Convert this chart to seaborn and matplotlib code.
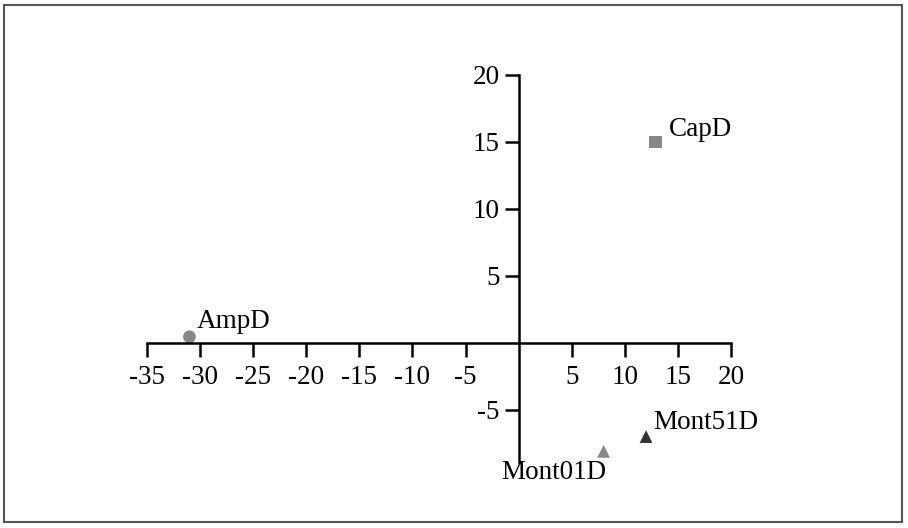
import pandas as pd
import seaborn as sns
import matplotlib.pyplot as plt
from matplotlib.patches import Rectangle

# data
names = ["AmpD", "CapD", "Mont01D", "Mont51D"]
x_vals = [-31.0, 12.9, 8.0, 12.0]
y_vals = [0.45, 15.0, -8.1, -7.0]
point_colors = ["#888888", "#888888", "#888888", "#333333"]
point_markers = ["o", "s", "^", "^"]
x_ticks = [-35, -30, -25, -20, -15, -10, -5, 5, 10, 15, 20]
y_ticks = [-5, 5, 10, 15, 20]

df = pd.DataFrame({"name": names, "x": x_vals, "y": y_vals})

sns.set_theme(style="white")
plt.rcParams["font.family"] = ["Liberation Serif", "DejaVu Serif"]
plt.rcParams["axes.unicode_minus"] = False

fig = plt.figure(figsize=(9.08, 5.28), dpi=100)
ax = fig.add_axes([147 / 908, 66 / 528, 584 / 908, 387 / 528])

sns.scatterplot(data=df, x="x", y="y", hue="name", style="name",
                palette=dict(zip(names, point_colors)),
                markers=dict(zip(names, point_markers)),
                s=85, edgecolor="none", legend=False, ax=ax)

ax.set_xlim(-35, 20)
ax.set_ylim(-8.9, 20)
ax.set_xticks(x_ticks)
ax.set_yticks(y_ticks)
ax.set_xlabel("")
ax.set_ylabel("")

for side in ["top", "right"]:
    ax.spines[side].set_visible(False)
ax.spines["left"].set_position(("data", 0))
ax.spines["bottom"].set_position(("data", 0))
for side in ["left", "bottom"]:
    ax.spines[side].set_color("black")
    ax.spines[side].set_linewidth(1.8)
ax.tick_params(axis="both", direction="out", length=10, width=1.8,
               color="black", labelsize=19.5, labelcolor="black")
ax.tick_params(axis="x", bottom=True, pad=6)
ax.tick_params(axis="y", left=True, pad=3.5)

# point labels: pixel offsets of the text baseline from the point
offsets = {"AmpD": (7, 9, "left"), "CapD": (13, 6, "left"),
           "Mont01D": (3, -28, "right"), "Mont51D": (7, 8, "left")}
for n, xv, yv in zip(names, x_vals, y_vals):
    dx, dy, ha = offsets[n]
    ax.annotate(n, (xv, yv), xytext=(dx, dy), textcoords="offset pixels",
                ha=ha, va="baseline", fontsize=19.5, color="black")

# frame around the whole picture
fig.patches.append(Rectangle((4 / 908, 6 / 528), 898 / 908, 517 / 528,
                             transform=fig.transFigure, fill=False,
                             edgecolor="#555555", linewidth=1.5))

fig.savefig("out.png", dpi=100)
